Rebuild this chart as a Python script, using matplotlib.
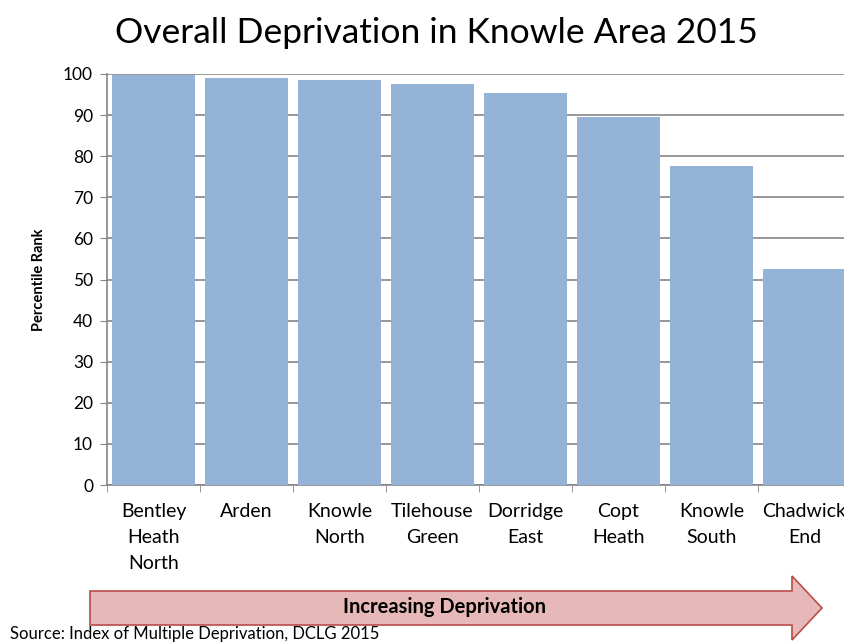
import numpy as np
import matplotlib
matplotlib.use("Agg")
import matplotlib.pyplot as plt
from matplotlib.patches import Polygon

plt.rcParams['font.family'] = ['Lato', 'DejaVu Sans']

# data
areas = ["Bentley\nHeath\nNorth", "Arden", "Knowle\nNorth", "Tilehouse\nGreen",
         "Dorridge\nEast", "Copt\nHeath", "Knowle\nSouth", "Chadwick\nEnd"]
rank = [99.8, 99.0, 98.5, 97.6, 95.4, 89.5, 77.6, 52.5]
y_ticks = list(range(0, 101, 10))

BAR_COLOR = "#95B3D7"
GRID_COLOR = "#868686"

W, H = 845, 644
fig = plt.figure(figsize=(W / 100, H / 100), dpi=100)
ax = fig.add_axes([107 / W, 1 - 485 / H, 744 / W, 411 / H])

x = np.arange(len(areas))
ax.bar(x, rank, width=0.9, color=BAR_COLOR, zorder=3)

ax.set_xlim(-0.5, len(areas) - 0.5)
ax.set_ylim(0, 100)
ax.set_yticks(y_ticks)
ax.tick_params(axis="y", labelsize=12.5, length=5, color=GRID_COLOR, pad=5)
ax.yaxis.grid(True, color=GRID_COLOR, linewidth=1.2, zorder=0)

ax.set_xticks(x)
ax.set_xticklabels(areas, fontsize=14, linespacing=1.65, va="top")
ax.tick_params(axis="x", which="major", length=0, pad=13)
ax.set_xticks(np.arange(-0.5, len(areas), 1), minor=True)
ax.tick_params(axis="x", which="minor", length=5, color=GRID_COLOR)

for side in ["top", "right"]:
    ax.spines[side].set_visible(False)
for side in ["left", "bottom"]:
    ax.spines[side].set_color(GRID_COLOR)
    ax.spines[side].set_linewidth(1.2)

ax.set_ylabel("Percentile Rank", fontsize=10.5, fontweight="bold", labelpad=12)

fig.text(436 / W, 1 - 33 / H, "Overall Deprivation in Knowle Area 2015",
         fontsize=25.5, ha="center", va="center")

# arrow below the chart
arrow_px = [(90, 591), (792, 591), (792, 576), (822, 608), (792, 640), (792, 625), (90, 625)]
arrow = Polygon([(px / W, 1 - py / H) for px, py in arrow_px], closed=True,
                transform=fig.transFigure, facecolor="#E6B9B8", edgecolor="#B84C4A",
                linewidth=1.2)
fig.patches.append(arrow)
fig.text(445 / W, 1 - 607 / H, "Increasing Deprivation", fontsize=14.5,
         fontweight="bold", ha="center", va="center")

fig.text(10 / W, 2 / H, "Source: Index of Multiple Deprivation, DCLG 2015",
         fontsize=12, ha="left", va="bottom")

fig.savefig("out.png", dpi=100)
